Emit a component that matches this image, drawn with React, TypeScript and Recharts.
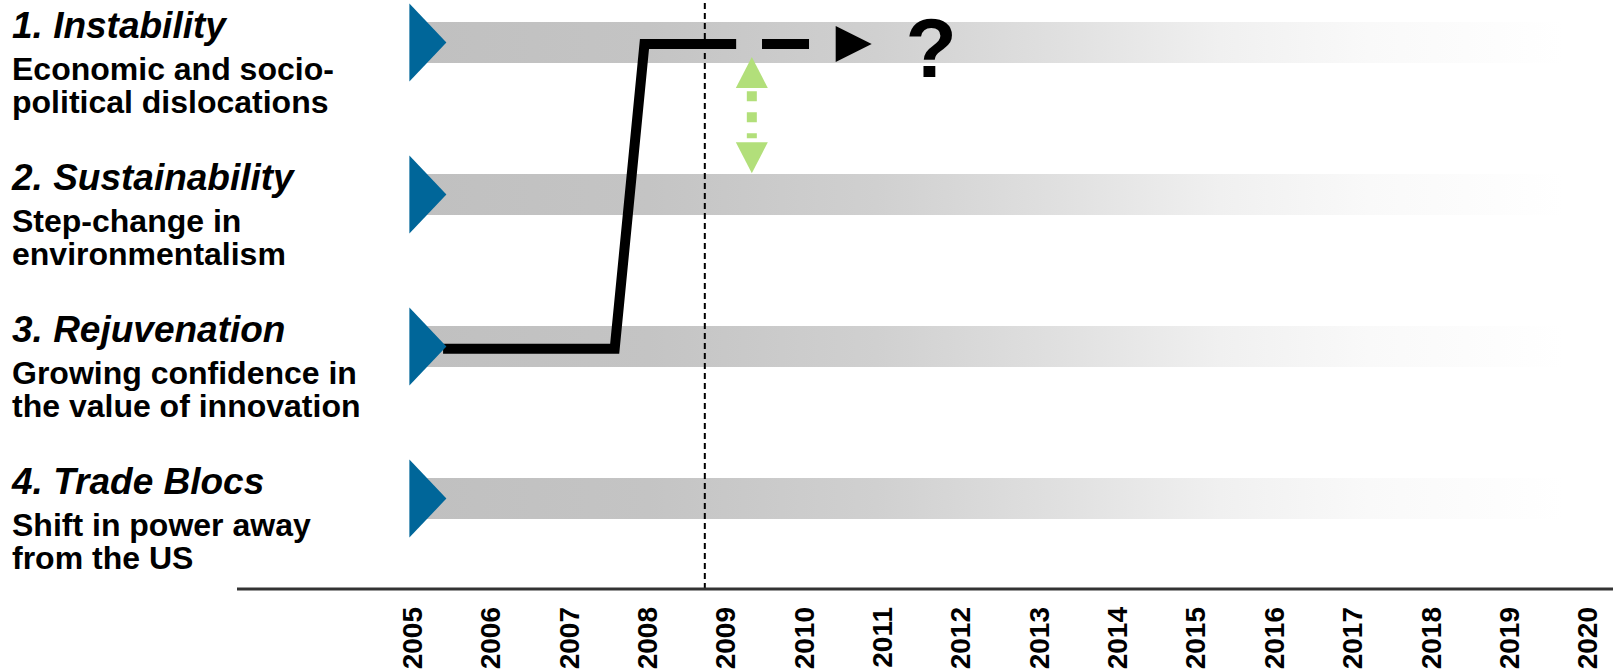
import React from "react"
import {
  ComposedChart,
  XAxis,
  YAxis,
  Line,
  Scatter,
  ReferenceArea,
  ReferenceLine,
} from "recharts"

const years = [
  2005, 2006, 2007, 2008, 2009, 2010, 2011, 2012, 2013, 2014, 2015, 2016,
  2017, 2018, 2019, 2020,
]

// 4 = top row, 1 = bottom row
const scenarioLevels = [4, 3, 2, 1]
const scenarioTitles = [
  "1. Instability",
  "2. Sustainability",
  "3. Rejuvenation",
  "4. Trade Blocs",
]
const scenarioNotes = [
  ["Economic and socio-", "political dislocations"],
  ["Step-change in", "environmentalism"],
  ["Growing confidence in", "the value of innovation"],
  ["Shift in power away", "from the US"],
]

const bandFrom = 2005.1
const bandTo = 2019.69
const bandHalf = 0.135

const rowMarkers = scenarioLevels.map((level) => ({ year: 2004.97, level }))

const pathSolid = [
  { year: 2005.4, level: 1.985 },
  { year: 2007.59, level: 1.985 },
  { year: 2007.97, level: 3.99 },
  { year: 2009.14, level: 3.99 },
]
const pathDashed = [
  { year: 2009.47, level: 3.99 },
  { year: 2010.07, level: 3.99 },
]
const pathArrow = [{ year: 2010.41, level: 3.99 }]
const questionMark = [{ year: 2011.3, level: 3.99 }]

const crisisYear = 2008.74

const gapHeads = [
  { year: 2009.34, level: 3.905, dir: "up" },
  { year: 2009.34, level: 3.14, dir: "down" },
]
const gapShaft = [
  { year: 2009.34, level: 3.68 },
  { year: 2009.34, level: 3.37 },
]

const FONT = "'Liberation Sans', Arial, sans-serif"

function ScenarioTick(props: any) {
  const { y, payload } = props
  const i = scenarioLevels.indexOf(payload.value)
  if (i < 0) return null
  return (
    <g>
      <text
        x={12}
        y={y - 5}
        fontFamily={FONT}
        fontSize={37}
        fontWeight="bold"
        fontStyle="italic"
        fill="#000"
      >
        {scenarioTitles[i]}
      </text>
      {scenarioNotes[i].map((line, k) => (
        <text
          key={k}
          x={12}
          y={y + 37 + k * 33}
          fontFamily={FONT}
          fontSize={32}
          fontWeight="bold"
          fill="#000"
        >
          {line}
        </text>
      ))}
    </g>
  )
}

function YearTick(props: any) {
  const { x, y, payload } = props
  return (
    <g transform={`translate(${x},${y + 16})`}>
      <text
        transform="rotate(-90)"
        textAnchor="end"
        dy="0.36em"
        fontFamily={FONT}
        fontSize={28}
        fontWeight="bold"
        fill="#000"
      >
        {payload.value}
      </text>
    </g>
  )
}

function BlueMarker(props: any) {
  const { cx, cy } = props
  return (
    <polygon
      points={`${cx},${cy - 39} ${cx + 37},${cy} ${cx},${cy + 39}`}
      fill="#006699"
    />
  )
}

function BlackArrow(props: any) {
  const { cx, cy } = props
  return (
    <polygon
      points={`${cx},${cy - 18} ${cx + 36},${cy} ${cx},${cy + 18}`}
      fill="#000"
    />
  )
}

function QuestionMark(props: any) {
  const { cx, cy } = props
  return (
    <text
      x={cx}
      y={cy + 33}
      fontFamily={FONT}
      fontSize={84}
      fontWeight="bold"
      fill="#000"
    >
      ?
    </text>
  )
}

function GreenHead(props: any) {
  const { cx, cy, payload } = props
  const s = payload.dir === "up" ? 1 : -1
  return (
    <polygon
      points={`${cx},${cy} ${cx - 16},${cy + s * 31} ${cx + 16},${cy + s * 31}`}
      fill="#b2df7a"
    />
  )
}

export default function App() {
  return (
    <div style={{ width: 1613, height: 670 }}>
      <style>{`body{margin:0}`}</style>
      <ComposedChart
        width={1613}
        height={670}
        margin={{ top: 0, right: 0, bottom: 0, left: 0 }}
      >
        <defs>
          <linearGradient id="bandFade" x1="0" y1="0" x2="1" y2="0">
            <stop offset="0%" stopColor="#c0c0c0" />
            <stop offset="20%" stopColor="#c4c4c4" />
            <stop offset="40%" stopColor="#d0d0d0" />
            <stop offset="56%" stopColor="#e0e0e0" />
            <stop offset="70%" stopColor="#f0f0f0" />
            <stop offset="83%" stopColor="#f9f9f9" />
            <stop offset="100%" stopColor="#ffffff" />
          </linearGradient>
        </defs>
        <XAxis
          type="number"
          dataKey="year"
          domain={[2002.77, 2020.33]}
          ticks={years}
          allowDataOverflow
          height={81}
          tickLine={false}
          tickSize={0}
          axisLine={{ stroke: "#333", strokeWidth: 3 }}
          tick={<YearTick />}
          interval={0}
        />
        <YAxis
          type="number"
          dataKey="level"
          domain={[0.405, 4.28]}
          ticks={scenarioLevels}
          allowDataOverflow
          width={237}
          axisLine={false}
          tickLine={false}
          tick={<ScenarioTick />}
          interval={0}
        />
        {scenarioLevels.map((level) => (
          <ReferenceArea
            key={level}
            x1={bandFrom}
            x2={bandTo}
            y1={level - bandHalf}
            y2={level + bandHalf}
            fill="url(#bandFade)"
            fillOpacity={1}
            stroke="none"
          />
        ))}
        <ReferenceLine
          x={crisisYear}
          stroke="#000"
          strokeWidth={2}
          strokeDasharray="6 4"
        />
        <Line
          data={pathSolid}
          dataKey="level"
          type="linear"
          stroke="#000"
          strokeWidth={10}
          strokeLinejoin="miter"
          dot={false}
          activeDot={false}
          isAnimationActive={false}
        />
        <Line
          data={pathDashed}
          dataKey="level"
          type="linear"
          stroke="#000"
          strokeWidth={10}
          dot={false}
          activeDot={false}
          isAnimationActive={false}
        />
        <Line
          data={gapShaft}
          dataKey="level"
          type="linear"
          stroke="#b2df7a"
          strokeWidth={10}
          strokeDasharray="10 11"
          dot={false}
          activeDot={false}
          isAnimationActive={false}
        />
        <Scatter data={gapHeads} dataKey="level" shape={<GreenHead />} isAnimationActive={false} />
        <Scatter data={pathArrow} dataKey="level" shape={<BlackArrow />} isAnimationActive={false} />
        <Scatter data={questionMark} dataKey="level" shape={<QuestionMark />} isAnimationActive={false} />
        <Scatter data={rowMarkers} dataKey="level" shape={<BlueMarker />} isAnimationActive={false} />
      </ComposedChart>
    </div>
  )
}
